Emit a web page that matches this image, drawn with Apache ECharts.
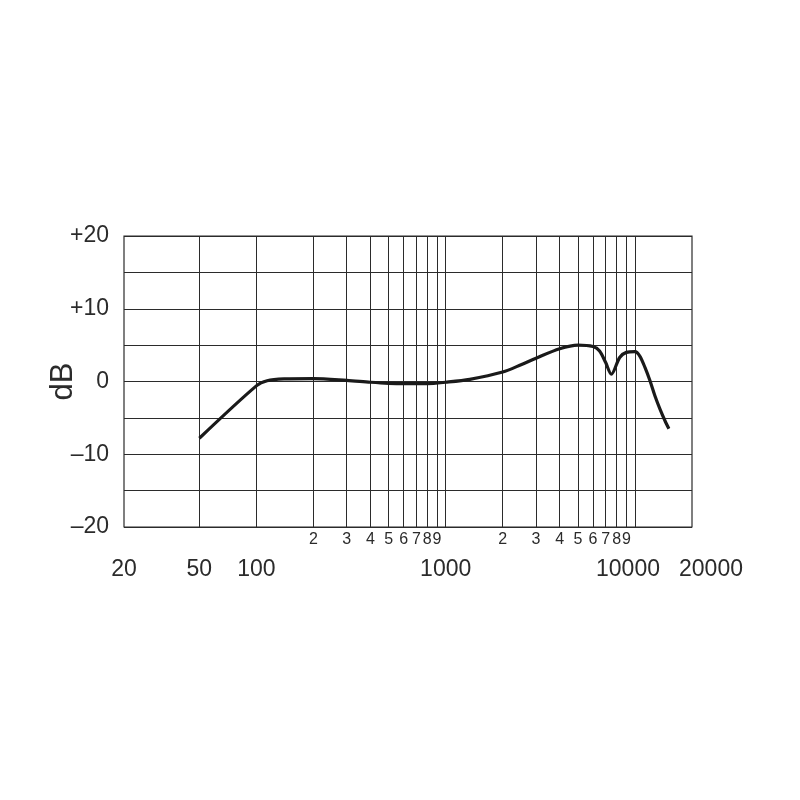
<!DOCTYPE html>
<html>
<head>
<meta charset="utf-8">
<script src="https://cdn.jsdelivr.net/npm/echarts@6/dist/echarts.min.js"></script>
<style>
  html, body { margin: 0; background: #fff; }
  #chart { width: 800px; height: 800px; }
</style>
</head>
<body>
<div id="chart"></div>
<script>
// frequency response
const freqs = [50, 100, 114, 140, 200, 300, 400, 500, 600, 800, 1000, 1340, 2000, 2500, 3000, 4000, 5000, 6000, 6500, 7000, 7500, 8300, 9000, 10000, 10600, 11300, 12000, 12750, 13550, 14400, 15100]
const gains = [-7.8, -0.6, 0.1, 0.35, 0.4, 0.15, -0.1, -0.25, -0.3, -0.3, -0.1, 0.3, 1.3, 2.3, 3.2, 4.5, 5.0, 4.8, 4.2, 2.6, 1.0, 3.3, 4.0, 4.1, 3.5, 1.9, 0.1, -2.0, -3.8, -5.4, -6.5]

// vertical grid lines, the small digit labels and the big frequency labels
const gridFreqs = [50, 100, 200, 300, 400, 500, 600, 700, 800, 900, 1000, 2000, 3000, 4000, 5000, 6000, 7000, 8000, 9000, 10000]
const minorFreqs = [200, 300, 400, 500, 600, 700, 800, 900, 2000, 3000, 4000, 5000, 6000, 7000, 8000, 9000]
const majorFreqs = [20, 50, 100, 1000, 10000, 20000]
const majorNudge = [0, 0, 0, 0, -7, 19]

const font = '"Liberation Sans", Arial, sans-serif'
const ink = '#2b2b2b'

const chart = echarts.init(document.getElementById('chart'))

function yLabel(v) {
  if (v % 10 !== 0) return ''
  if (v > 0) return '+' + v
  if (v < 0) return '\u2013' + (-v)
  return '0'
}

chart.setOption({
  animation: false,
  backgroundColor: '#fff',
  grid: {
    left: 124, right: 108, top: 236, bottom: 273,
    show: true, borderColor: ink, borderWidth: 1.2
  },
  xAxis: {
    type: 'log',
    logBase: 10,
    min: 20,
    max: 20000,
    axisLine: { show: false },
    axisTick: { show: false },
    axisLabel: { show: false },
    splitLine: { show: false }
  },
  yAxis: {
    type: 'value',
    min: -20,
    max: 20,
    interval: 5,
    name: 'dB',
    nameLocation: 'middle',
    nameRotate: 90,
    nameGap: 45,
    nameMoveOverlap: false,
    nameTextStyle: { fontSize: 31, color: ink, fontFamily: font },
    axisLine: { show: false },
    axisTick: { show: false },
    axisLabel: {
      margin: 15,
      fontSize: 23,
      color: ink,
      fontFamily: font,
      formatter: yLabel
    },
    splitLine: { show: true, lineStyle: { color: ink, width: 1 } }
  },
  series: [
    {
      type: 'line',
      data: [],
      silent: true,
      markLine: {
        silent: true,
        symbol: ['none', 'none'],
        animation: false,
        lineStyle: { color: ink, width: 1, type: 'solid' },
        label: {
          position: 'start',
          distance: 5,
          fontSize: 16,
          color: ink,
          fontFamily: font
        },
        data: gridFreqs.map(f => ({
          xAxis: f,
          label: {
            show: minorFreqs.includes(f),
            formatter: String(f).charAt(0)
          }
        }))
      }
    },
    {
      type: 'line',
      data: freqs.map((f, i) => [f, gains[i]]),
      showSymbol: false,
      smooth: 0.3,
      z: 5,
      lineStyle: { color: '#1a1a1a', width: 3.2 }
    }
  ]
})

// big frequency labels under the small digits
const labelY = chart.convertToPixel({ yAxisIndex: 0 }, -20) + 43
chart.setOption({
  graphic: majorFreqs.map((f, i) => ({
    type: 'text',
    x: chart.convertToPixel({ xAxisIndex: 0 }, f) + majorNudge[i],
    y: labelY,
    style: {
      text: String(f),
      fontSize: 23,
      fontFamily: font,
      fill: ink,
      align: 'center',
      verticalAlign: 'middle'
    }
  }))
})
</script>
</body>
</html>
